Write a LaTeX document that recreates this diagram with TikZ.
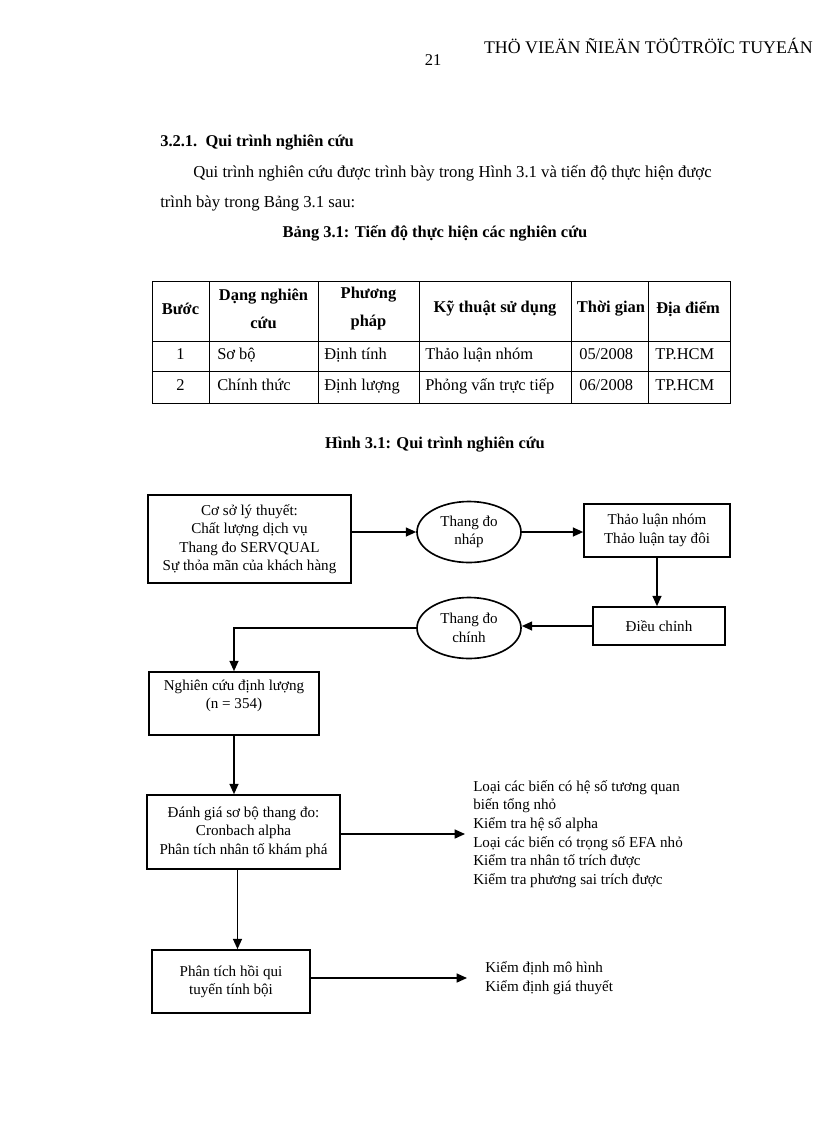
\documentclass[tikz,border=0pt]{standalone}
\usepackage{fontspec}
\setmainfont{Liberation Serif}
\usetikzlibrary{arrows.meta,shapes.geometric}
\newcommand\pxu{0.7295pt}

\begin{document}
\begin{tikzpicture}[x=0.7295pt,y=-0.7295pt,
  every node/.style={inner sep=0pt},
  bodytext/.style={font=\fontsize{12.2}{15}\selectfont},
  bodybold/.style={font=\fontsize{12}{15}\selectfont\bfseries},
  cell/.style={font=\fontsize{12}{20.4}\selectfont,anchor=base west},
  headcell/.style={font=\fontsize{12}{20.4}\selectfont\bfseries,align=center},
  tabline/.style={line width=0.6pt},
  flowtext/.style={font=\fontsize{11}{13.4}\selectfont,align=center},
  flowbox/.style={flowtext,draw,line width=1.2pt},
  flowell/.style={flowtext,draw,ellipse,line width=1.2pt,minimum width=104*\pxu,minimum height=61*\pxu},
  flow/.style={line width=1.1pt,-{Triangle[length=7.5pt,width=6.5pt]}},
  notes/.style={font=\fontsize{11}{13.6}\selectfont,align=left}]
\fill[white] (0,0) rectangle (816,1123);
\useasboundingbox (0,0) rectangle (816,1123);

% page head
\node[font=\fontsize{12}{14}\selectfont] (pagenum) at (433,60) {21};
\node[font=\fontsize{13}{15}\selectfont,anchor=east] (pagehead) at (813,46) {THÖ VIEÄN ÑIEÄN TÖÛTRÖÏC TUYEÁN};

% text
\node[bodybold,anchor=west] (section) at (160,143) {3.2.1.\ \ Qui trình nghiên cứu};
\node[bodytext,anchor=west] (parone) at (193,173) {Qui trình nghiên cứu được trình bày trong Hình 3.1 và tiến độ thực hiện được};
\node[bodytext,anchor=west] (partwo) at (160,203) {trình bày trong Bảng 3.1 sau:};
\node[bodybold] (tabtitle) at (435,233) {Bảng 3.1: Tiến độ thực hiện các nghiên cứu};

% table
\draw[tabline] (152,281) rectangle (730,403);
\foreach \y in {341,371}
  \draw[tabline] (152,\y) -- (730,\y);
\foreach \x in {209,318,419,571,648}
  \draw[tabline] (\x,281) -- (\x,403);
\node[headcell] (hstep) at (180.5,309) {Bước};
\node[headcell] (hkind) at (263.5,309) {Dạng nghiên\\cứu};
\node[headcell] (hmethod) at (368.5,309) {Phương\\pháp};
\node[headcell] (htech) at (495,309) {Kỹ thuật sử dụng};
\node[headcell] (htime) at (611,309) {Thời gian};
\node[headcell] (hplace) at (688,309) {Địa điểm};
\node[cell,anchor=base] (astep) at (180.5,359) {1};
\node[cell] (akind) at (217,359) {Sơ bộ};
\node[cell] (amethod) at (324,359) {Định tính};
\node[cell] (atech) at (425,359) {Thảo luận nhóm};
\node[cell] (atime) at (579,359) {05/2008};
\node[cell] (aplace) at (655,359) {TP.HCM};
\node[cell,anchor=base] (bstep) at (180.5,390) {2};
\node[cell] (bkind) at (217,390) {Chính thức};
\node[cell] (bmethod) at (324,390) {Định lượng};
\node[cell] (btech) at (425,390) {Phỏng vấn trực tiếp};
\node[cell] (btime) at (579,390) {06/2008};
\node[cell] (bplace) at (655,390) {TP.HCM};

\node[bodybold] (figtitle) at (435,445) {Hình 3.1: Qui trình nghiên cứu};

% flow chart
\node[flowbox,minimum width=203*\pxu,minimum height=88*\pxu] (theory) at (249.5,539) {Cơ sở lý thuyết:\\Chất lượng dịch vụ\\Thang đo SERVQUAL\\Sự thỏa mãn của khách hàng};
\node[flowell] (draft) at (469,532) {Thang đo\\nháp};
\node[flowbox,minimum width=146*\pxu,minimum height=53*\pxu] (discuss) at (657,530.5) {Thảo luận nhóm\\Thảo luận tay đôi};
\node[flowbox,minimum width=132*\pxu,minimum height=38*\pxu] (adjust) at (659,626) {Điều chỉnh};
\node[flowell] (official) at (469,628) {Thang đo\\chính};
\node[flowbox,minimum width=170*\pxu,minimum height=63*\pxu] (quant) at (234,703.5) {};
\node[flowtext] (quanttext) at (234,696) {Nghiên cứu định lượng\\(n = 354)};
\node[flowbox,minimum width=193*\pxu,minimum height=74*\pxu] (eval) at (243.5,832) {Đánh giá sơ bộ thang đo:\\Cronbach alpha\\Phân tích nhân tố khám phá};
\node[notes,anchor=west] (checks) at (473,834) {Loại các biến có hệ số tương quan\\biến tổng nhỏ\\Kiểm tra hệ số alpha\\Loại các biến có trọng số EFA nhỏ\\Kiểm tra nhân tố trích được\\Kiểm tra phương sai trích được};
\node[flowbox,minimum width=158*\pxu,minimum height=63*\pxu] (regr) at (231,981.5) {Phân tích hồi qui\\tuyến tính bội};
\node[notes,anchor=west] (tests) at (485,978) {Kiểm định mô hình\\Kiểm định giá thuyết};

\draw[flow] (theory.east |- draft.west) -- (draft.west);
\draw[flow] (draft.east) -- (draft.east -| discuss.west);
\draw[flow] (discuss.south) -- (discuss.south |- adjust.north);
\draw[flow] (adjust.west) -- (adjust.west -| official.east);
\draw[flow] (official.west) -| (quant.north);
\draw[flow] (quant.south) -- (quant.south |- eval.north);
\draw[flow,shorten >=8*\pxu] (eval.east |- checks.west) -- (checks.west);
\draw[flow] ([xshift=-6*\pxu]eval.south) -- ([xshift=-6*\pxu]eval.south |- regr.north);
\draw[flow,shorten >=18*\pxu] (regr.east |- tests.west) -- (tests.west);
\end{tikzpicture}
\end{document}
